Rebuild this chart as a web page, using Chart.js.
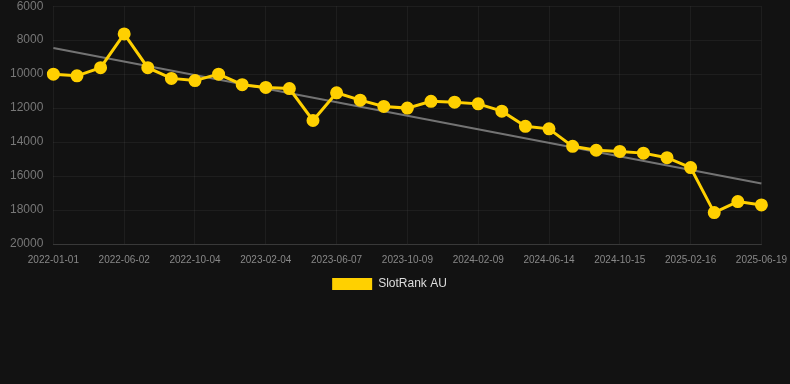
<!DOCTYPE html>
<html>
<head>
<meta charset="utf-8">
<script src="https://cdn.jsdelivr.net/npm/chart.js@4/dist/chart.umd.min.js"></script>
<style>
  html, body { margin: 0; padding: 0; background: #121212; overflow: hidden; }
  #wrap { width: 797px; height: 311px; position: relative; margin-top: -11px; }
</style>
</head>
<body>
<div id="wrap"><canvas id="c"></canvas></div>
<script>
const labels = [
  "2022-01-01","2022-02-20","2022-04-12","2022-06-02","2022-07-14","2022-08-25","2022-10-04",
  "2022-11-15","2022-12-26","2023-02-04","2023-03-18","2023-04-28","2023-06-07","2023-07-19",
  "2023-08-29","2023-10-09","2023-11-20","2023-12-30","2024-02-09","2024-03-22","2024-05-03",
  "2024-06-14","2024-07-26","2024-09-04","2024-10-15","2024-11-26","2025-01-06","2025-02-16",
  "2025-03-30","2025-05-09","2025-06-19"
];
const slotRankAU = [
  10000, 10100, 9620, 7630, 9620, 10250, 10380, 10000, 10620, 10780, 10850,
  12730, 11100, 11530, 11900, 12000, 11600, 11650, 11750, 12180, 13070,
  13220, 14250, 14480, 14550, 14650, 14920, 15500, 18150, 17500, 17700
];
const trendStart = 8460;
const trendEnd = 16440;
const trend = labels.map((_, i) => i === 0 ? trendStart : (i === labels.length - 1 ? trendEnd : null));
const yTicks = [6000, 8000, 10000, 12000, 14000, 16000, 18000, 20000];

const legendShift = {
  id: 'legendShift',
  afterLayout(chart) {
    const lg = chart.legend;
    if (lg) { lg.left -= 9; lg.right -= 9; }
  }
};

new Chart(document.getElementById('c'), {
  type: 'line',
  plugins: [legendShift],
  data: {
    labels: labels,
    datasets: [
      {
        label: 'SlotRank AU',
        data: slotRankAU,
        borderColor: 'rgb(255,208,0)',
        backgroundColor: 'rgb(255,208,0)',
        borderWidth: 3,
        pointRadius: 5,
        pointHoverRadius: 5,
        pointBackgroundColor: 'rgb(255,208,0)',
        pointBorderColor: 'rgb(255,208,0)',
        tension: 0,
        order: 1
      },
      {
        label: 'trend',
        data: trend,
        borderColor: 'rgba(140,140,140,0.8)',
        borderWidth: 2,
        pointRadius: 0,
        spanGaps: true,
        order: 2
      }
    ]
  },
  options: {
    responsive: true,
    maintainAspectRatio: false,
    animation: false,
    layout: { padding: { left: 0, right: 0, top: 0, bottom: 0 } },
    plugins: {
      legend: {
        position: 'bottom',
        labels: {
          color: '#dddddd',
          font: { family: 'Liberation Sans, Arial, sans-serif', size: 12 },
          boxWidth: 40,
          boxHeight: 12,
          padding: 2,
          filter: (item) => item.text !== 'trend',
          generateLabels: (chart) => {
            const items = Chart.defaults.plugins.legend.labels.generateLabels(chart);
            items.forEach(it => { it.lineWidth = 0; });
            return items;
          }
        }
      },
      tooltip: { enabled: false }
    },
    scales: {
      x: {
        grid: { color: 'rgba(255,255,255,0.05)', drawTicks: false },
        border: { color: 'rgba(255,255,255,0.12)' },
        ticks: {
          color: '#888888',
          font: { family: 'Liberation Sans, Arial, sans-serif', size: 10 },
          maxRotation: 0,
          autoSkip: true,
          padding: 10,
          callback: function(val, idx) { return idx % 3 === 0 ? this.getLabelForValue(val) : null; }
        }
      },
      y: {
        reverse: true,
        min: 6000,
        max: 20000,
        afterBuildTicks: (axis) => { axis.ticks = yTicks.map(v => ({ value: v })); },
        grid: { color: 'rgba(255,255,255,0.05)', drawTicks: false },
        border: { display: false },
        ticks: {
          color: '#777777',
          font: { family: 'Liberation Sans, Arial, sans-serif', size: 12 },
          padding: 10,
          callback: (v) => String(v)
        }
      }
    }
  }
});
</script>
</body>
</html>
